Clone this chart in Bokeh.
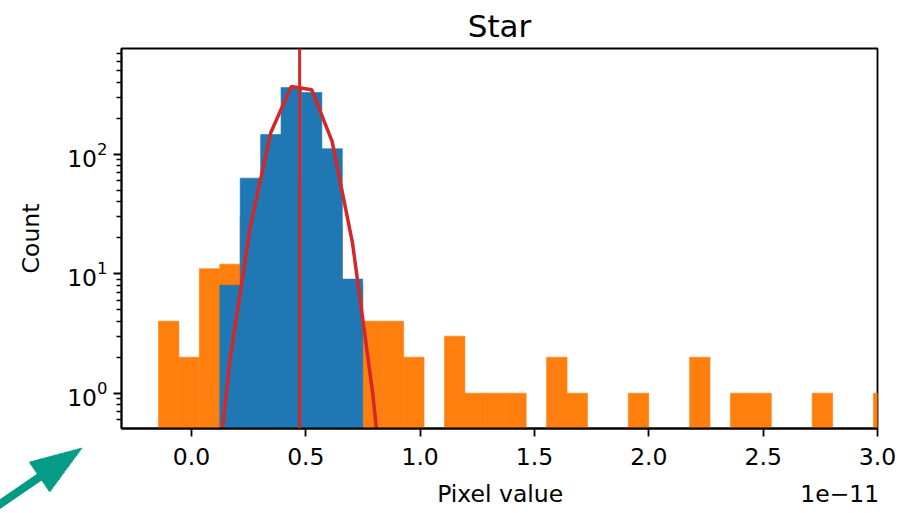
import math
from bokeh.plotting import figure
from bokeh.models import (Range1d, FixedTicker, PrintfTickFormatter, Span, Arrow, NormalHead,
                          LinearAxis)
from bokeh.embed import file_html
from bokeh.resources import INLINE

# ---- data (pixel values in units of 1e-11) ----
bin_first_edge = -0.1443
bin_width = 0.08933
n_bins = 36
orange_counts = [4, 2, 11, 12, 30, 45, 60, 50, 25, 8,
                 4, 4, 2, 0, 3, 1, 1, 1, 0, 2,
                 1, 0, 0, 1, 0, 0, 2, 0, 1, 1,
                 0, 0, 1, 0, 0, 1]
blue_bin_index = [3, 4, 5, 6, 7, 8, 9]
blue_counts = [8, 63, 146, 361, 328, 111, 9]
curve_bin_index = [2, 3, 4, 5, 6, 7, 8, 9, 10, 11]
curve_values = [0.05, 1.9, 25, 152, 368, 346, 128, 18, 0.96, 0.02]
fit_mean = 0.473
y_major_ticks = [1, 10, 100]
x_ticks = [0.0, 0.5, 1.0, 1.5, 2.0, 2.5, 3.0]
x_label_text = "Pixel value"
x_offset_text = "1e\u221211"

edges = [bin_first_edge + i * bin_width for i in range(n_bins + 1)]

BLUE = "#1f77b4"
ORANGE = "#ff7f0e"
RED = "#d62728"
TEAL = "#009a85"
FONT = "DejaVu Sans"

W, H = 906, 513
BL, BR, BT, BB = 121, 29, 48, 85
X0, X1 = -0.306, 3.0
Y0, Y1 = 0.506, 766
FW, FH = W - BL - BR, H - BT - BB


def px2x(px):
    return X0 + (px - BL) / FW * (X1 - X0)


def py2y(py):
    ly0, ly1 = math.log10(Y0), math.log10(Y1)
    return 10 ** (ly0 + ((H - BB) - py) / FH * (ly1 - ly0))


p = figure(width=W, height=H, x_range=Range1d(X0, X1), y_range=Range1d(Y0, Y1),
           y_axis_type="log", output_backend="svg", toolbar_location=None, title="Star",
           min_border_left=BL, min_border_right=BR, min_border_top=BT, min_border_bottom=BB)

# orange histogram
ol = [edges[i] for i, c in enumerate(orange_counts) if c > 0]
orr = [edges[i + 1] for i, c in enumerate(orange_counts) if c > 0]
ot = [c for c in orange_counts if c > 0]
p.quad(left=ol, right=orr, top=ot, bottom=[0.01] * len(ot), fill_color=ORANGE,
       line_color=ORANGE, line_width=0.6)

# blue histogram
bl = [edges[i] for i in blue_bin_index]
br = [edges[i + 1] for i in blue_bin_index]
p.quad(left=bl, right=br, top=blue_counts, bottom=[0.01] * len(blue_counts), fill_color=BLUE,
       line_color=BLUE, line_width=0.6)

# fitted curve at bin centres
cx = [(edges[i] + edges[i + 1]) / 2 for i in curve_bin_index]
p.line(cx, curve_values, line_color=RED, line_width=3.5)

p.add_layout(Span(location=fit_mean, dimension="height", line_color=RED, line_width=3))

# axes styling
p.grid.visible = False
p.outline_line_color = "black"
p.outline_line_width = 1.8
p.outline_line_alpha = 1

minor = [m * 10 ** d for d in range(-1, 3) for m in range(2, 10)]
p.yaxis.ticker = FixedTicker(ticks=y_major_ticks, minor_ticks=minor)
p.xaxis.ticker = FixedTicker(ticks=x_ticks, minor_ticks=[])
p.xaxis.formatter = PrintfTickFormatter(format="%.1f")

for ax in (p.xaxis[0], p.yaxis[0]):
    ax.axis_line_width = 1.8
    ax.major_tick_line_width = 1.8
    ax.minor_tick_line_width = 1.4
    ax.major_tick_out = 8
    ax.major_tick_in = 0
    ax.minor_tick_out = 5
    ax.minor_tick_in = 0
    ax.major_label_text_font = FONT
    ax.major_label_text_font_size = "23.5px"
    ax.major_label_text_color = "black"
    ax.axis_label_text_font = FONT
    ax.axis_label_text_font_size = "23.5px"
    ax.axis_label_text_font_style = "normal"
    ax.axis_label_text_color = "black"

p.yaxis.axis_label = "Count"
p.xaxis.major_label_standoff = 11
p.yaxis.major_label_standoff = 6
p.yaxis.axis_label_standoff = 19

# second (label-only) axis below carrying "Pixel value" and the offset text "1e-11"
lab_pos = [1.35, 2.835]
lab_axis = LinearAxis(ticker=FixedTicker(ticks=lab_pos, minor_ticks=[]),
                      major_label_overrides={lab_pos[0]: x_label_text, lab_pos[1]: x_offset_text},
                      axis_line_color=None, major_tick_line_color=None, minor_tick_line_color=None,
                      major_tick_out=0, major_tick_in=0, minor_tick_out=0, minor_tick_in=0,
                      major_label_standoff=12,
                      major_label_text_font=FONT, major_label_text_font_size="23.5px",
                      major_label_text_color="black")
p.add_layout(lab_axis, "below")

p.title.text_font = FONT
p.title.text_font_size = "31px"
p.title.text_font_style = "normal"
p.title.align = "center"
p.title.text_color = "black"

# teal arrow in the lower-left margin, assembled from clipped Arrow bodies
tip = (81.7, 447.3)
u = (0.825, -0.565)       # direction tail -> tip
n = (0.565, 0.825)        # perpendicular
head_len, head_half, shaft_w = 52.0, 18.3, 8.0


def add_strip(d_end, off, length, lw):
    ex = tip[0] - d_end * u[0] + off * n[0]
    ey = tip[1] - d_end * u[1] + off * n[1]
    sx = ex - 250 * u[0]
    sy = ey - 250 * u[1]
    p.add_layout(Arrow(end=NormalHead(size=length, fill_alpha=0, line_alpha=0),
                       x_start=px2x(sx), y_start=py2y(sy), x_end=px2x(ex), y_end=py2y(ey),
                       line_color=TEAL, line_width=lw, line_cap="butt"))


# shaft
add_strip(head_len - 1, 0.0, 110, shaft_w)
# head (triangle filled by narrow strips)
delta = 0.75
nstrip = int(round(2 * head_half / delta))
for j in range(nstrip):
    off = -head_half + delta * (j + 0.5)
    d0 = head_len * abs(off) / head_half
    L = head_len - d0
    if L > 0.8:
        add_strip(d0, off, L, delta + 0.5)

open("out.html", "w").write(file_html(p, INLINE))
